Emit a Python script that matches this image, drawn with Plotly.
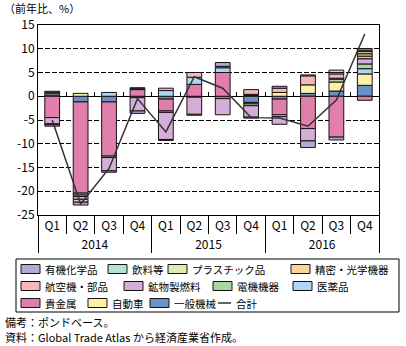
import plotly.graph_objects as go

# ---------------- data ----------------
years = ["2014"] * 4 + ["2015"] * 4 + ["2016"] * 4
quarters = ["Q1", "Q2", "Q3", "Q4"] * 3

# contributions (percentage points); stacking order from zero outward
ippan_kikai = [None, -1.2, -1.2, None, -0.6, -0.2, -0.5, -1.3, -0.6, 0.6, 1.1, 2.3]
jidosha = [0.25, 0.6, None, -0.3, None, None, None, 0.15, 0.8, 1.8, 1.9, 2.4]
kikinzoku = [-4.5, -19.2, -11.4, 1.4, -2.5, 2.5, 5.0, 0.25, -3.3, -6.8, -8.6, -0.85]
iyakuhin = [None, -0.4, 0.8, None, 1.2, 1.5, 1.0, -0.3, -0.4, None, None, 1.1]
denki = [0.4, -0.3, -0.3, None, -0.3, None, None, -0.4, None, None, 0.6, 1.0]
kobutsu = [-1.3, -0.6, -2.8, -2.8, -5.7, -3.6, -3.4, -2.4, -1.6, -2.6, 0.2, 1.1]
kokuki = [-0.2, -0.6, None, None, 0.5, 1.0, None, 1.0, 0.9, 1.9, 0.9, 0.55]
seimitsu = [0.2, None, None, None, None, -0.2, 0.3, None, None, 0.2, 0.3, 0.5]
plastic = [None, None, None, 0.2, None, None, None, None, None, None, None, 0.45]
inryo = [0.2, None, None, 0.2, None, None, None, None, None, None, 0.5, 0.3]
yuki = [-0.3, -0.6, -0.3, -0.5, -0.2, None, 0.8, -0.2, 0.4, -1.4, -0.6, 0.35]
total = [-5.0, -22.7, -15.2, -0.5, -7.5, 4.1, 1.7, -4.5, -4.6, -6.3, -0.8, 13.1]

series_names = ["一般機械", "自動車", "貴金属", "医薬品", "電機機器", "鉱物製燃料",
                "航空機・部品", "精密・光学機器", "プラスチック品", "飲料等", "有機化学品"]
series_values = [ippan_kikai, jidosha, kikinzoku, iyakuhin, denki, kobutsu,
                 kokuki, seimitsu, plastic, inryo, yuki]
total_name = "合計"

ytick_vals = [15, 10, 5, 0, -5, -10, -15, -20, -25]
ytick_text = ["15", "10", "5", "0", "-5", "-10", "-15", "-20", "-25"]

# ---------------- styles ----------------
colors = {
    "有機化学品": "#b1a9d6",
    "飲料等": "#b5e0d8",
    "プラスチック品": "#dcedb0",
    "精密・光学機器": "#f9d49b",
    "航空機・部品": "#f4b9b5",
    "鉱物製燃料": "#d4aed6",
    "電機機器": "#a9d7a4",
    "医薬品": "#abd8f3",
    "貴金属": "#e07fab",
    "自動車": "#fdf2a4",
    "一般機械": "#6a92c9",
}
FONT = "Noto Sans CJK JP"
W, H = 406, 346
L, R, T, B = 38, 379, 25, 215
YMIN, YMAX = -25, 15


def px2x(px):
    return (px - L) / (R - L)


def py2y(py):
    return (B - py) / (B - T)


fig = go.Figure()
x_multi = [years, quarters]
for name, vals in zip(series_names, series_values):
    fig.add_trace(go.Bar(
        x=x_multi, y=vals, name=name,
        marker=dict(color=colors[name], line=dict(color="#1a1014", width=1)),
        showlegend=False,
    ))
fig.add_trace(go.Scatter(
    x=x_multi, y=total, name=total_name, mode="lines",
    line=dict(color="#333333", width=1.5), showlegend=False,
))

n = len(quarters)
bounds = [i + 0.5 for i in range(n - 1)]
zero_pos = (0 - YMIN) / (YMAX - YMIN)
# helper traces for the boundary-tick axes
fig.add_trace(go.Scatter(x=[0], y=[None], xaxis="x2", yaxis="y",
                         showlegend=False, hoverinfo="skip"))
fig.add_trace(go.Scatter(x=[0], y=[None], xaxis="x3", yaxis="y",
                         showlegend=False, hoverinfo="skip"))

shapes = []
annotations = []

# legend (custom drawn)
shapes.append(dict(type="rect", xref="paper", yref="paper",
                   x0=px2x(16), x1=px2x(399), y0=py2y(259), y1=py2y(312),
                   line=dict(color="black", width=1), fillcolor="rgba(0,0,0,0)"))
legend_layout = [
    ("有機化学品", 21, 269), ("飲料等", 108, 269), ("プラスチック品", 168, 269), ("精密・光学機器", 291, 269),
    ("航空機・部品", 21, 286), ("鉱物製燃料", 124, 286), ("電機機器", 213, 286), ("医薬品", 293, 286),
    ("貴金属", 21, 303), ("自動車", 88, 303), ("一般機械", 150, 303), (total_name, 218, 303),
]
for name, sx, sy in legend_layout:
    if name == total_name:
        shapes.append(dict(type="line", xref="paper", yref="paper",
                           x0=px2x(sx), x1=px2x(sx + 13), y0=py2y(sy), y1=py2y(sy),
                           line=dict(color="#333333", width=1.5)))
        tx = sx + 16
    else:
        shapes.append(dict(type="rect", xref="paper", yref="paper",
                           x0=px2x(sx), x1=px2x(sx + 19), y0=py2y(sy - 4.5), y1=py2y(sy + 4.5),
                           fillcolor=colors[name], line=dict(color="#1a1014", width=1)))
        tx = sx + 22
    annotations.append(dict(text=name, xref="paper", yref="paper", x=px2x(tx), y=py2y(sy),
                            xanchor="left", yanchor="middle", showarrow=False,
                            font=dict(family=FONT, size=10.5, color="black")))

annotations.append(dict(text="（前年比、%）", xref="paper", yref="paper", x=px2x(2), y=py2y(8),
                        xanchor="left", yanchor="middle", showarrow=False,
                        font=dict(family=FONT, size=11, color="black")))
annotations.append(dict(text="備考：ポンドベース。", xref="paper", yref="paper", x=px2x(3), y=py2y(322),
                        xanchor="left", yanchor="middle", showarrow=False,
                        font=dict(family=FONT, size=11, color="black")))
annotations.append(dict(text="資料：Global Trade Atlas から経済産業省作成。", xref="paper", yref="paper",
                        x=px2x(3), y=py2y(337), xanchor="left", yanchor="middle", showarrow=False,
                        font=dict(family=FONT, size=11, color="black")))

fig.update_layout(
    width=W, height=H,
    margin=dict(l=L, r=W - R, t=T, b=H - B, pad=0),
    paper_bgcolor="white", plot_bgcolor="white",
    barmode="relative", bargap=0.48,
    font=dict(family=FONT, size=12, color="black"),
    showlegend=False,
    shapes=shapes, annotations=annotations,
    xaxis=dict(
        type="multicategory", ticks="", showgrid=False, zeroline=False,
        showline=True, mirror=True, linecolor="black", linewidth=1,
        showdividers=True, dividercolor="black", dividerwidth=1,
        tickfont=dict(family=FONT, size=12, color="black"),
    ),
    xaxis2=dict(
        overlaying="x", anchor="free", position=zero_pos, range=[-0.5, n - 0.5],
        tickmode="array", tickvals=bounds, ticks="inside", ticklen=4,
        tickcolor="black", tickwidth=1, showticklabels=False,
        showgrid=False, zeroline=False, showline=False,
    ),
    xaxis3=dict(
        overlaying="x", anchor="free", position=0, range=[-0.5, n - 0.5],
        tickmode="array", tickvals=bounds, ticks="outside", ticklen=18,
        tickcolor="black", tickwidth=1, showticklabels=False,
        showgrid=False, zeroline=False, showline=False,
    ),
    yaxis=dict(
        range=[YMIN, YMAX], tickmode="array", tickvals=ytick_vals, ticktext=ytick_text,
        ticks="", showgrid=True, gridcolor="black", gridwidth=1, griddash="5px,2px",
        zeroline=True, zerolinecolor="black", zerolinewidth=1.2,
        showline=True, mirror=True, linecolor="black", linewidth=1,
        tickfont=dict(family=FONT, size=12, color="black"),
    ),
)

fig.write_html("out.html")
